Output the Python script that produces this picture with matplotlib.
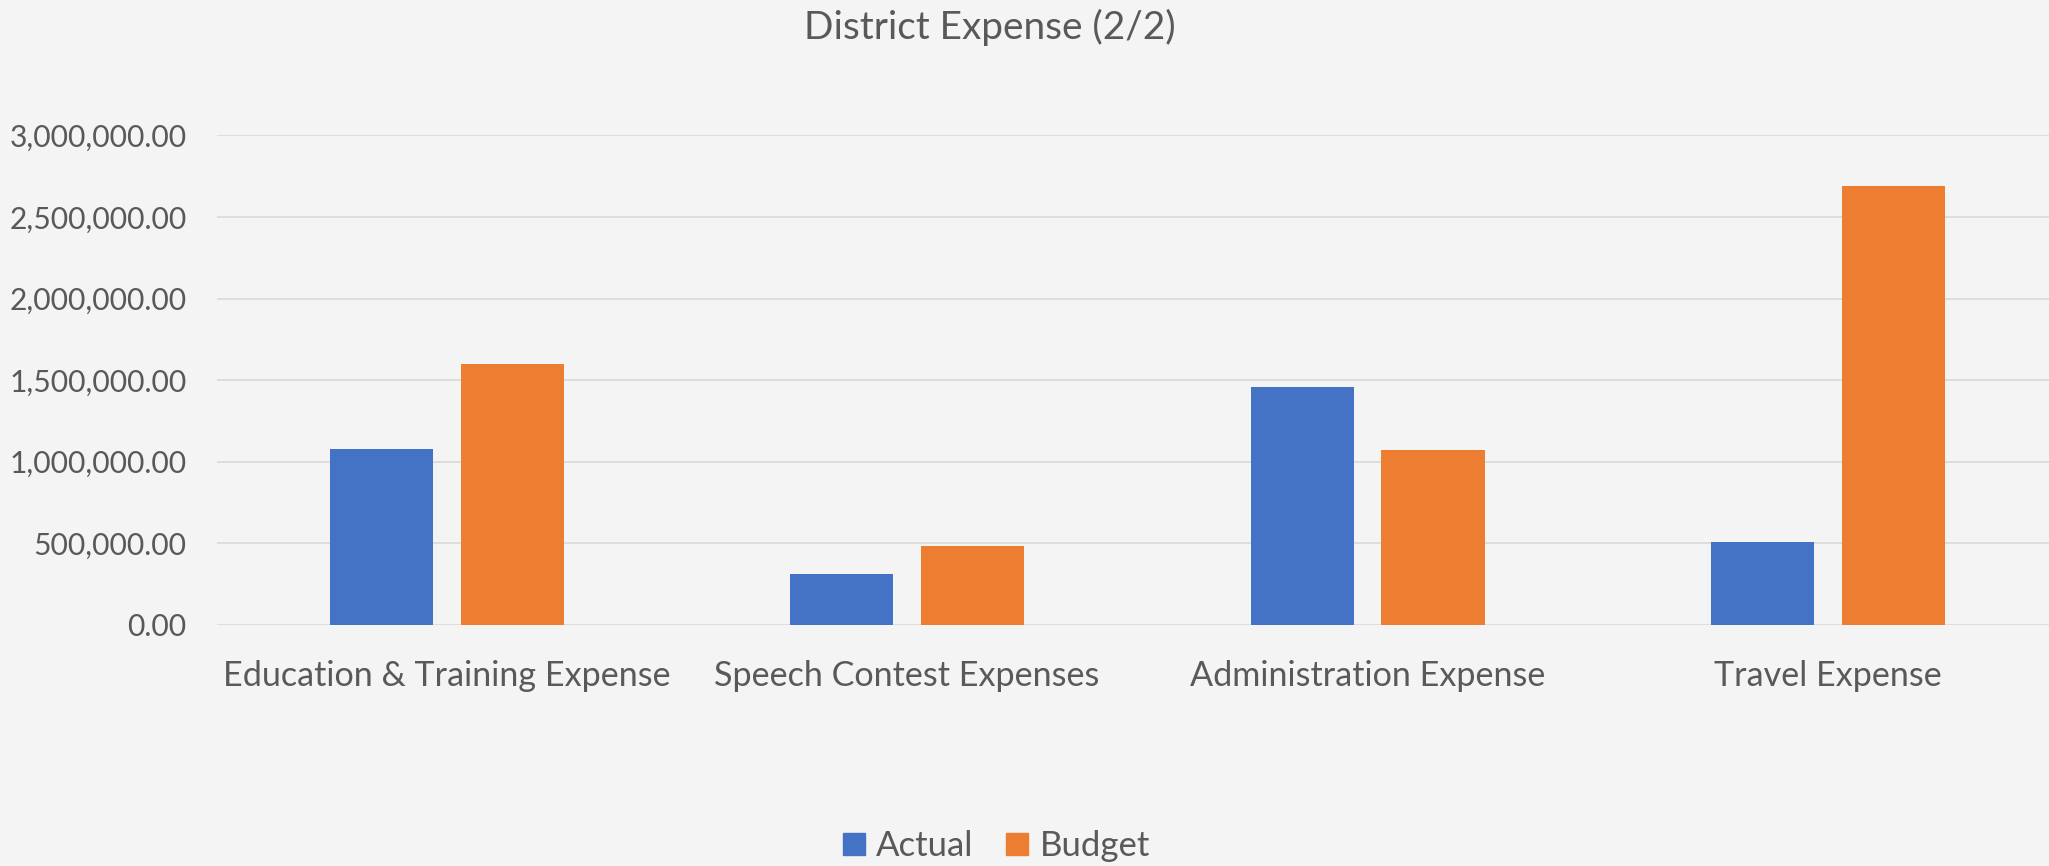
import matplotlib.pyplot as plt
import matplotlib.patches as mpatches
import matplotlib.ticker as mticker
import numpy as np

# data
categories = ["Education & Training Expense", "Speech Contest Expenses",
              "Administration Expense", "Travel Expense"]
actual = [1080000, 315000, 1458000, 506000]
budget = [1601000, 484000, 1073000, 2687000]
yticks = [0, 500000, 1000000, 1500000, 2000000, 2500000, 3000000]

bg = '#F4F4F4'
txt = '#595959'
blue = '#4472C4'
orange = '#ED7D31'

plt.rcParams['font.family'] = ['Lato', 'DejaVu Sans']

W, H = 2049, 866
fig = plt.figure(figsize=(W/100, H/100), dpi=100, facecolor=bg)
ax = fig.add_axes([216.5/W, 1-625/H, 1-216.5/W, (625-135.3)/H])
ax.set_facecolor(bg)

x = np.arange(len(categories))
w = 0.224
off = 0.142
ax.bar(x-off, actual, w, color=blue, zorder=3)
ax.bar(x+off, budget, w, color=orange, zorder=3)

ax.set_xlim(-0.5, 3.48)
ax.set_ylim(0, 3000000)
ax.set_yticks(yticks)
ax.yaxis.set_major_formatter(mticker.FuncFormatter(lambda v, p: f"{v:,.2f}"))
ax.set_xticks(x)
ax.set_xticklabels(categories)
ax.tick_params(axis='y', length=0, pad=21.6, labelsize=21.6, labelcolor=txt)
ax.tick_params(axis='x', length=0, pad=25.5, labelsize=24.6, labelcolor=txt)
ax.grid(axis='y', color='#D9D9D9', linewidth=1.2, zorder=0)
for s in ax.spines.values():
    s.set_visible(False)

fig.text(990/W, 1-39.3/H, "District Expense (2/2)", ha='center', va='baseline',
         fontsize=27.9, color=txt)

handles = [mpatches.Patch(color=blue, label='Actual'),
           mpatches.Patch(color=orange, label='Budget')]
fig.legend(handles=handles, loc='center', bbox_to_anchor=(996.5/W, 1-846/H),
           ncol=2, frameon=False, fontsize=25, labelcolor=txt,
           handlelength=0.62, handleheight=0.62, handletextpad=0.33,
           columnspacing=0.95)

fig.savefig('out.png', dpi=100, facecolor=bg)
